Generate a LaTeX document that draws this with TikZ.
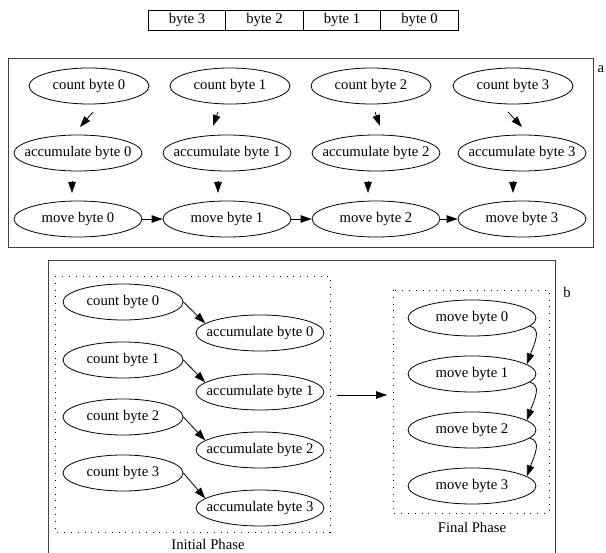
\documentclass[tikz,border=0pt]{standalone}
\usepackage{fontspec}
\setmainfont{Liberation Serif}
\usetikzlibrary{arrows.meta,shapes.geometric}
\newcommand\ztxt[1]{\makebox[0pt]{#1}}
\begin{document}
\begin{tikzpicture}[x=1pt,y=-1pt,
  every node/.style={font=\fontsize{14.7}{17}\selectfont},
  ell/.style={ellipse,draw,line width=0.8pt,inner sep=0pt,minimum height=36pt},
  cnt/.style={ell,minimum width=120pt},
  acc/.style={ell,minimum width=128pt},
  arr/.style={-{Triangle[length=11pt,width=7.5pt]},line width=0.8pt},
  frame/.style={draw=black!75,line width=0.9pt},
  clus/.style={draw,line width=0.8pt,dash pattern=on 0.8pt off 6pt},
  bytebox/.style={draw,line width=0.8pt,minimum width=77.5pt,minimum height=20pt,inner sep=0pt}
]
\useasboundingbox (0,0) rectangle (606,553);
% top byte row
\node[bytebox] (b3) at (187,20) {byte 3};
\node[bytebox] (b2) at (264.5,20) {byte 2};
\node[bytebox] (b1) at (342,20) {byte 1};
\node[bytebox] (b0) at (419.5,20) {byte 0};

% panel a
\draw[frame] (8,58) rectangle (593,247);
\node (la) at (601,69) {a};
\node[cnt] (c0) at (89,86) {\ztxt{count byte 0}};
\node[cnt] (c1) at (230,86) {\ztxt{count byte 1}};
\node[cnt] (c2) at (371,86) {\ztxt{count byte 2}};
\node[cnt] (c3) at (513,86) {\ztxt{count byte 3}};
\node[acc] (a0) at (78,153) {\ztxt{accumulate byte 0}};
\node[acc] (a1) at (227,153) {\ztxt{accumulate byte 1}};
\node[acc] (a2) at (376,153) {\ztxt{accumulate byte 2}};
\node[acc] (a3) at (522,153) {\ztxt{accumulate byte 3}};
\node[acc] (m0) at (78,219) {\ztxt{move byte 0}};
\node[acc] (m1) at (227,219) {\ztxt{move byte 1}};
\node[acc] (m2) at (376,219) {\ztxt{move byte 2}};
\node[acc] (m3) at (522,219) {\ztxt{move byte 3}};
\draw[arr] ([shift={(4,26)}]c0.center) -- ([shift={(2,-26)}]a0.center);
\draw[arr] ([shift={(-12,26)}]c1.center) -- ([shift={(-14,-27)}]a1.center);
\draw[arr] ([shift={(4,26)}]c2.center) -- ([shift={(4,-27)}]a2.center);
\draw[arr] ([shift={(-5,26)}]c3.center) -- ([shift={(0,-26)}]a3.center);
\draw[arr] ([shift={(-6,28)}]a0.center) -- ([shift={(-6,-26)}]m0.center);
\draw[arr] ([shift={(-9,28)}]a1.center) -- ([shift={(-9,-26)}]m1.center);
\draw[arr] ([shift={(-8,28)}]a2.center) -- ([shift={(-8,-26)}]m2.center);
\draw[arr] ([shift={(-9,28)}]a3.center) -- ([shift={(-9,-26)}]m3.center);
\draw[arr] (m0.east) -- (m1.west);
\draw[arr] (m1.east) -- (m2.west);
\draw[arr] (m2.east) -- (m3.west);

% panel b
\draw[frame] (48,260) rectangle (555,560);
\node (lb) at (567,292) {b};
\draw[clus] (55,276) rectangle (330,532);
\node (li) at (208,544.5) {Initial Phase};
\draw[clus] (393,290) rectangle (549,513);
\node (lf) at (472,527) {Final Phase};
\node[cnt] (bc0) at (123,302) {\ztxt{count byte 0}};
\node[cnt] (bc1) at (123,360) {\ztxt{count byte 1}};
\node[cnt] (bc2) at (123,417) {\ztxt{count byte 2}};
\node[cnt] (bc3) at (123,473) {\ztxt{count byte 3}};
\node[acc] (ba0) at (260,333) {\ztxt{accumulate byte 0}};
\node[acc] (ba1) at (260,392) {\ztxt{accumulate byte 1}};
\node[acc] (ba2) at (260,450) {\ztxt{accumulate byte 2}};
\node[acc] (ba3) at (260,508) {\ztxt{accumulate byte 3}};
\foreach \k in {0,1,2,3} \draw[arr] (bc\k.east) -- (ba\k.170);
\node[acc] (bm0) at (472,318) {\ztxt{move byte 0}};
\node[acc] (bm1) at (472,374) {\ztxt{move byte 1}};
\node[acc] (bm2) at (472,430) {\ztxt{move byte 2}};
\node[acc] (bm3) at (472,486) {\ztxt{move byte 3}};
\draw[arr] (bm0.-8) .. controls +(12,3) and +(8,-22) .. (bm1.10);
\draw[arr] (bm1.-8) .. controls +(12,3) and +(8,-22) .. (bm2.10);
\draw[arr] (bm2.-8) .. controls +(12,3) and +(8,-22) .. (bm3.10);
\coordinate (ia) at (337,395);
\coordinate (fa) at (387,395);
\draw[arr] (ia) -- (fa);
\end{tikzpicture}
\end{document}
